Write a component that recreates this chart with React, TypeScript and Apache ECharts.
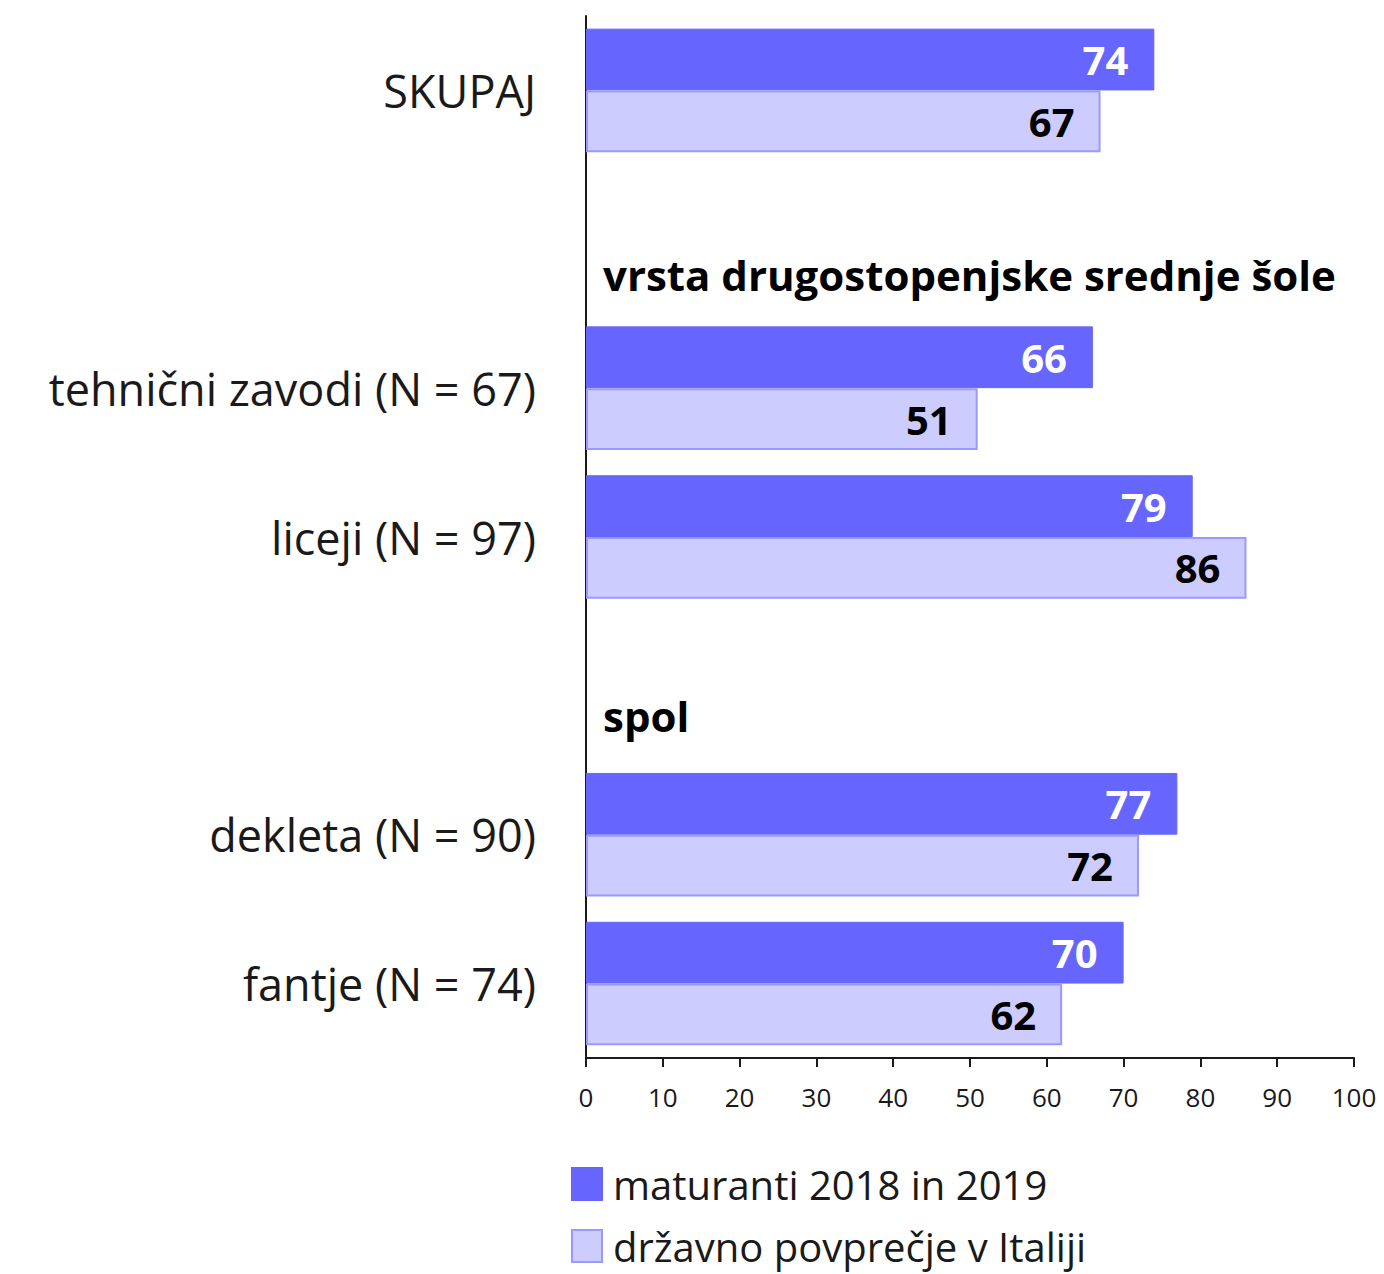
import React, { useEffect, useRef } from "react";
import * as echarts from "echarts";

const categories = [
  "SKUPAJ",
  "",
  "tehnični zavodi (N = 67)",
  "liceji (N = 97)",
  "",
  "dekleta (N = 90)",
  "fantje (N = 74)",
];
const maturanti = [74, null, 66, 79, null, 77, 70];
const drzavno = [67, null, 51, 86, null, 72, 62];
const seriesNames = ["maturanti 2018 in 2019", "državno povprečje v Italiji"];
const groupHeaders = ["vrsta drugostopenjske srednje šole", "spol"];
const xTicks = { min: 0, max: 100, interval: 10 };

const FONT = "'Open Sans', Lato, sans-serif";

export default function App() {
  const ref = useRef<HTMLDivElement>(null);
  useEffect(() => {
    document.body.style.margin = "0";
    const chart = echarts.init(ref.current!, undefined, { renderer: "svg" });
    chart.setOption({
      animation: false,
      backgroundColor: "#ffffff",
      textStyle: { fontFamily: FONT },
      grid: { left: 586, right: 30, top: 16, bottom: 216, containLabel: false },
      xAxis: {
        type: "value",
        min: xTicks.min,
        max: xTicks.max,
        interval: xTicks.interval,
        splitLine: { show: false },
        axisLine: { show: true, lineStyle: { color: "#1a1a1a", width: 2 } },
        axisTick: { show: true, length: 9, lineStyle: { color: "#1a1a1a", width: 2 } },
        axisLabel: { color: "#1a1a1a", fontSize: 26, margin: 26, fontFamily: FONT },
      },
      yAxis: {
        type: "category",
        inverse: true,
        data: categories,
        axisLine: { show: true, lineStyle: { color: "#1a1a1a", width: 2 } },
        axisTick: { show: false },
        axisLabel: { color: "#1a1a1a", fontSize: 45, margin: 50, fontFamily: FONT },
      },
      legend: {
        orient: "vertical",
        left: 571,
        top: 1164,
        height: 110,
        padding: 0,
        icon: "rect",
        itemWidth: 30,
        itemHeight: 32,
        itemGap: 22,
        textStyle: {
          fontSize: 40,
          lineHeight: 40,
          color: "#1a1a1a",
          fontFamily: FONT,
          padding: [0, 0, 0, 6],
        },
        data: seriesNames,
      },
      series: [
        {
          name: seriesNames[0],
          type: "bar",
          data: maturanti,
          barGap: "0%",
          barCategoryGap: "17%",
          itemStyle: { color: "#6666ff", borderColor: "#6666ff", borderWidth: 1 },
          label: {
            show: true,
            position: "insideRight",
            distance: 26,
            color: "#ffffff",
            fontWeight: "bold",
            fontSize: 40,
            fontFamily: FONT,
          },
        },
        {
          name: seriesNames[1],
          type: "bar",
          data: drzavno,
          barGap: "0%",
          barCategoryGap: "17%",
          itemStyle: { color: "#ccccff", borderColor: "#9999ff", borderWidth: 2 },
          label: {
            show: true,
            position: "insideRight",
            distance: 26,
            color: "#000000",
            fontWeight: "bold",
            fontSize: 40,
            fontFamily: FONT,
          },
        },
      ],
      graphic: [
        {
          type: "text",
          left: 603,
          top: 253,
          style: { text: groupHeaders[0], fontSize: 42, fontWeight: "bold", fill: "#000", fontFamily: FONT },
        },
        {
          type: "text",
          left: 603,
          top: 694,
          style: { text: groupHeaders[1], fontSize: 42, fontWeight: "bold", fill: "#000", fontFamily: FONT },
        },
      ],
    });
    return () => chart.dispose();
  }, []);
  return <div ref={ref} style={{ width: 1384, height: 1274 }} />;
}
